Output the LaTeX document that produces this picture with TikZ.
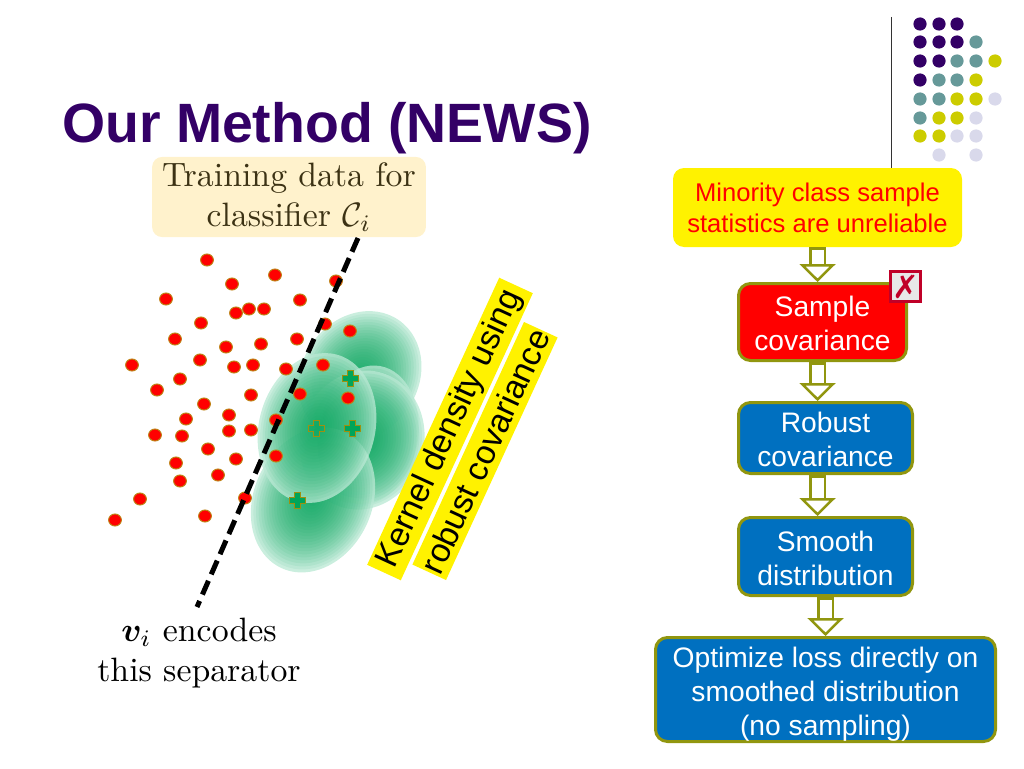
\documentclass[tikz,border=0pt]{standalone}
\usepackage{amsmath}
\usepackage{bm}
\usepackage{fontspec}
\setsansfont{Liberation Sans}
\newfontfamily\symfont{DejaVu Sans}
\usetikzlibrary{arrows.meta,positioning}
\definecolor{nwpurple}{RGB}{51,0,102}
\definecolor{nwteal}{RGB}{102,153,153}
\definecolor{nwolive}{RGB}{204,204,0}
\definecolor{nwlav}{RGB}{217,217,235}
\definecolor{nwedge}{RGB}{145,150,15}
\definecolor{nwdot}{RGB}{190,130,20}
\definecolor{nwblue}{RGB}{0,112,192}
\definecolor{nwcream}{RGB}{255,242,204}
\definecolor{nwgreen}{RGB}{0,165,90}
\definecolor{nwpale}{RGB}{205,240,225}
\definecolor{nwcross}{RGB}{192,0,40}
\definecolor{nwink}{RGB}{60,50,20}
\newcommand{\flowlift}[1]{\rule{0pt}{#1}}
\tikzset{
  flowbox/.style={rectangle, rounded corners=12pt, draw=nwedge, line width=3pt, fill=nwblue, text=white, align=center, font=\sffamily\fontsize{28.2}{34}\selectfont, inner sep=0pt},
  slant/.style={rectangle, fill=yellow, rotate=65.3, text=black, minimum height=37pt, inner sep=0pt, font=\sffamily\fontsize{33.5}{36}\selectfont},
  flowarrow/.style={double=white, draw=nwedge, line width=2.5pt, double distance=12pt, {Bar[width=17pt, line width=2.5pt]}-{Triangle[open, fill=white, length=18pt, width=36pt, line width=2.5pt]}},
  reddot/.style={fill=red, draw=nwdot, line width=1pt},
  cmtext/.style={align=center, scale=3.38, font=\normalsize},
}
\begin{document}
\begin{tikzpicture}[x=1pt,y=-1pt]
\useasboundingbox (0,0) rectangle (1024,768);

% Title
\node[anchor=base west, text=nwpurple, inner sep=0pt, font=\sffamily\bfseries\fontsize{55.4}{60}\selectfont] (title) at (62,142) {Our Method (NEWS)};

% Corner ornament
\coordinate (ruletop) at (891.5,17);
\coordinate (rulebot) at (891.5,168);
\draw[line width=1.2pt, black!80] (ruletop) -- (rulebot);
\foreach \col/\row/\tone in {
  920/24/nwpurple,939/24/nwpurple,957/24/nwpurple,
  920/42/nwpurple,939/42/nwpurple,957/42/nwpurple,976/42/nwteal,
  920/61/nwpurple,939/61/nwpurple,957/61/nwteal,976/61/nwteal,995/61/nwolive,
  920/80/nwpurple,939/80/nwteal,957/80/nwteal,976/80/nwolive,
  920/99/nwteal,939/99/nwteal,957/99/nwolive,976/99/nwolive,995/99/nwlav,
  920/118/nwteal,939/118/nwolive,957/118/nwolive,976/118/nwlav,
  920/136/nwolive,939/136/nwolive,957/136/nwlav,976/136/nwlav,
  939/155/nwlav,976/155/nwlav}
  \fill[\tone] (\col,\row) circle (6.6pt);

% Kernel blobs
\foreach \bx/\by/\rx/\ry/\ang in {
  360/376/58/68/-35, 368/435/50/70/-10, 362/440/62/70/-15, 313/500/59/75/-25, 317/428/58/76/-15}
{
  \fill[nwpale, opacity=0.75, rotate around={\ang:(\bx,\by)}] (\bx,\by) ellipse ({\rx} and {\ry});
  \foreach \k in {1,...,24}
    \fill[nwgreen, opacity=0.07, rotate around={\ang:(\bx,\by)}] (\bx,\by) ellipse ({\rx*(25-\k)/24} and {\ry*(25-\k)/24});
}

% Points of the first class
\foreach \px/\py in {
  207/260,232/284,275/275,166/299,236/313,249/309,264/309,201/323,175/339,226/347,
  261/344,297/339,300/300,132/365,200/360,234/367,253/365,286/369,180/379,157/390,
  251/395,300/394,204/404,186/419,229/415,276/420,155/435,182/436,229/431,251/430,
  208/449,236/459,276/456,176/463,180/481,218/475,140/499,245/498,115/520,205/516,
  325/324,336/281,350/331,323/365,348/398}
  \fill[reddot] (\px,\py) ellipse (6.4pt and 6pt);

% Kernel centres
\foreach \px/\py/\solid in {350/378/1,316/428/0.3,352/428/1,297/500/1}
  \filldraw[fill=nwgreen, fill opacity=\solid, draw=nwedge!70!nwdot, line width=1pt] (\px-3,\py-8) -- (\px+3,\py-8) -- (\px+3,\py-3) -- (\px+8,\py-3) -- (\px+8,\py+3) -- (\px+3,\py+3) -- (\px+3,\py+8) -- (\px-3,\py+8) -- (\px-3,\py+3) -- (\px-8,\py+3) -- (\px-8,\py-3) -- (\px-3,\py-3) -- cycle;

% Separator
\coordinate (septop) at (358,238);
\coordinate (sepbot) at (197,607);
\draw[line width=5pt, dash pattern=on 15pt off 7pt] (septop) -- (sepbot);

% Labels on the left
\node[cmtext, rectangle, rounded corners=10pt, fill=nwcream, text=nwink, minimum width=81pt, minimum height=23.7pt, inner sep=0pt] (training) at (289,197) {Training data for\\classifier $\mathcal{C}_i$};
\node[cmtext] (encodes) at (199,653) {$\bm{v}_i$ encodes\\this separator};

% Slanted captions
\node[slant, minimum width=316pt] (kernel) at (450,429) {Kernel density using};
\node[slant, minimum width=267pt] (robustcap) at (485,451) {robust covariance};

% Flow
\node[rectangle, rounded corners=11pt, fill=yellow, text=red, align=center, minimum width=289pt, minimum height=79pt, inner sep=0pt, font=\sffamily\fontsize{25.6}{31}\selectfont] (minority) at (817.5,207.5) {Minority class sample\\statistics are unreliable};
\node[flowbox, fill=red, minimum width=168pt, minimum height=77pt] (sample) at (822.5,322) {\flowlift{24pt}Sample\\covariance};
\node[flowbox, minimum width=174pt, minimum height=71pt] (robust) at (825.5,438) {\flowlift{24pt}Robust\\covariance};
\node[flowbox, minimum width=174pt, minimum height=78pt] (smooth) at (825.5,556.5) {\flowlift{24pt}Smooth\\distribution};
\node[flowbox, minimum width=340pt, minimum height=104pt] (optimize) at (825.5,689.5) {\flowlift{30pt}Optimize loss directly on\\smoothed distribution\\(no sampling)};

\draw[flowarrow] (minority.south) -- (minority.south |- sample.north);
\draw[flowarrow] (sample.south -| minority.south) -- (robust.north -| minority.south);
\draw[flowarrow] (robust.south -| minority.south) -- (smooth.north -| minority.south);
\draw[flowarrow] (smooth.south) -- (optimize.north);

% Rejected mark
\node[rectangle, draw=nwcross, line width=3pt, fill=black!9, text=nwcross, minimum size=30pt, inner sep=0pt, font=\symfont\fontsize{32}{32}\selectfont] (reject) at (905.5,286.5) {✗};
\end{tikzpicture}
\end{document}
